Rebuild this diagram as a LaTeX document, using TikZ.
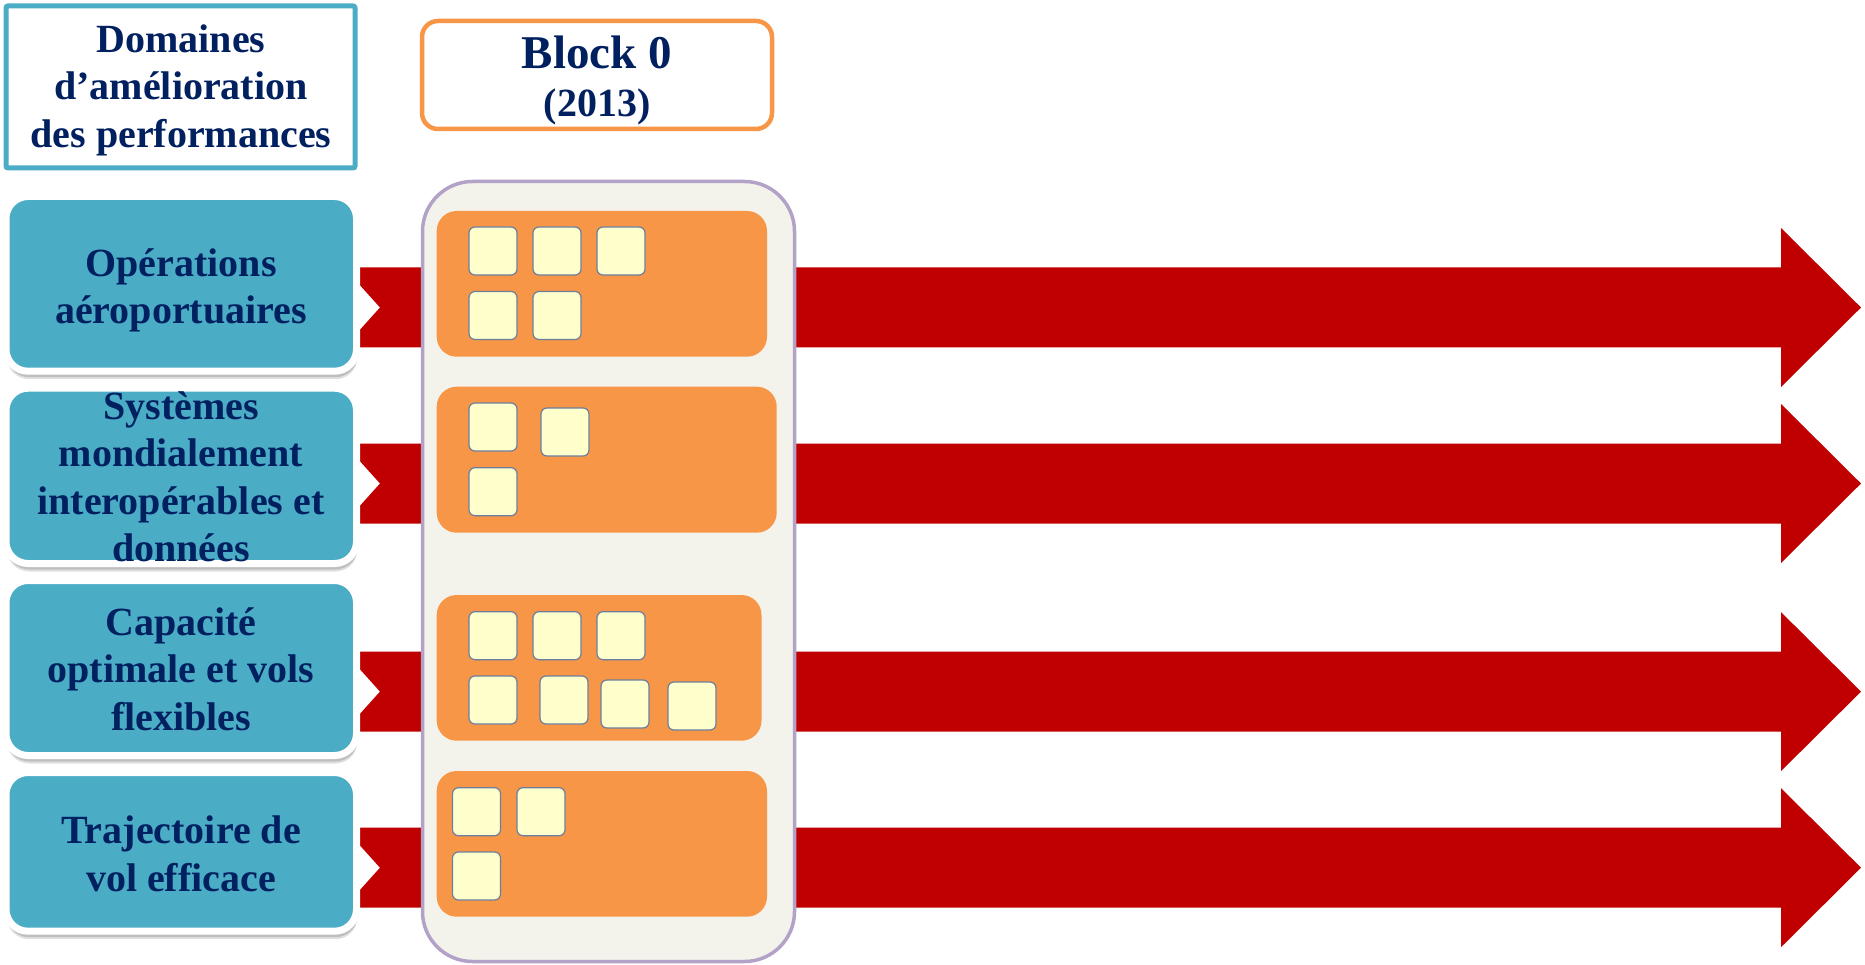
\documentclass[tikz,border=0pt]{standalone}
\usepackage{fontspec}
\setmainfont{Liberation Serif}
\usetikzlibrary{shadows}
\definecolor{cTeal}{HTML}{4BACC6}
\definecolor{cNavy}{HTML}{002060}
\definecolor{cRed}{HTML}{C00000}
\definecolor{cOrange}{HTML}{F79646}
\definecolor{cCream}{HTML}{F3F2EB}
\definecolor{cLav}{HTML}{B3A2C7}
\definecolor{cSq}{HTML}{FFFFCC}
\definecolor{cSqLine}{HTML}{6C7F9F}
\tikzset{
  lbl/.style={font=\fontsize{40}{47.5}\selectfont\bfseries, text=cNavy, align=center, inner sep=0pt},
  areabox/.style={fill=cTeal, draw=white, line width=7pt, rounded corners=22pt, minimum width=350.5pt, inner sep=0pt, outer sep=0pt,
    drop shadow={shadow xshift=1pt, shadow yshift=-8pt, fill=black, opacity=0.12},
    drop shadow={shadow xshift=1pt, shadow yshift=-6pt, fill=black, opacity=0.15}},
  orangebox/.style={fill=cOrange, draw=none, rounded corners=20pt, inner sep=0pt, outer sep=0pt},
  sqbox/.style={fill=cSq, draw=cSqLine, line width=1.2pt, rounded corners=6pt, minimum width=48pt, minimum height=48pt, inner sep=0pt, outer sep=0pt, anchor=north west},
  colbox/.style={fill=cCream, draw=cLav, line width=3.5pt, rounded corners=50pt, inner sep=0pt, outer sep=0pt},
  redarrow/.style={fill=cRed, draw=none}
}
\begin{document}
\begin{tikzpicture}[x=1pt,y=-1pt]
\useasboundingbox (0,0) rectangle (1865,965);
% red arrows
\foreach \c in {307.5,483.5,691.6,867.7}{
  \fill[redarrow] (344,\c-40) -- (1781,\c-40) -- (1781,\c-79.5) -- (1861,\c) -- (1781,\c+79.5) -- (1781,\c+40) -- (344,\c+40) -- (380,\c) -- cycle;
}
% column container
\node[colbox, minimum width=372pt, minimum height=780pt] (col) at (608.5,571.5) {};
% orange boxes
\node[orangebox, minimum width=330.3pt, minimum height=145.7pt] (o1) at (601.85,283.85) {};
\node[orangebox, minimum width=340pt, minimum height=146pt] (o2) at (606.7,459.7) {};
\node[orangebox, minimum width=324.8pt, minimum height=145.7pt] (o3) at (599.1,667.85) {};
\node[orangebox, minimum width=330.3pt, minimum height=145.7pt] (o4) at (601.85,843.85) {};
% squares row 1
\node[sqbox] (s11) at (469,227) {};
\node[sqbox] (s12) at (533,227) {};
\node[sqbox] (s13) at (597,227) {};
\node[sqbox] (s14) at (469,291.5) {};
\node[sqbox] (s15) at (533,291.5) {};
% row 2
\node[sqbox] (s21) at (469,403) {};
\node[sqbox] (s22) at (541,408) {};
\node[sqbox] (s23) at (469,467.7) {};
% row 3
\node[sqbox] (s31) at (469,611.7) {};
\node[sqbox] (s32) at (533,611.7) {};
\node[sqbox] (s33) at (597,611.7) {};
\node[sqbox] (s34) at (469,676) {};
\node[sqbox] (s35) at (540,676) {};
\node[sqbox] (s36) at (601,680) {};
\node[sqbox] (s37) at (668,682) {};
% row 4
\node[sqbox] (s41) at (452.5,787.7) {};
\node[sqbox] (s42) at (517,787.7) {};
\node[sqbox] (s43) at (452.5,852) {};
% domain boxes
\node[areabox, minimum height=174.7pt] (d1) at (181.25,283.85) {};
\node[areabox, minimum height=175.3pt] (d2) at (181.25,475.85) {};
\node[areabox, minimum height=175pt] (d3) at (181.25,668) {};
\node[areabox, minimum height=158.7pt] (d4) at (181.25,851.85) {};
\node[lbl] (t1) at (181,290.5) {\strut Opérations\\aéroportuaires\strut};
\node[lbl] (t2) at (181,480.8) {\strut Systèmes\\mondialement\\interopérables et\\données\strut};
\node[lbl] (t3) at (181,673) {\strut Capacité\\optimale et vols\\flexibles\strut};
\node[lbl] (t4) at (181,857.8) {\strut Trajectoire de\\vol efficace\strut};
% header boxes
\node[draw=cTeal, line width=5pt, rounded corners=2pt, fill=white, minimum width=349pt, minimum height=162pt, inner sep=0pt] (hdr) at (180.5,87) {};
\node[lbl] (hdrt) at (181,90.5) {\strut Domaines\\d’amélioration\\des performances\strut};
\node[draw=cOrange, line width=4.5pt, rounded corners=16pt, fill=white, minimum width=350pt, minimum height=108pt, inner sep=0pt] (blk) at (597,75) {};
\node[font=\fontsize{47}{50}\selectfont\bfseries, text=cNavy, anchor=base, inner sep=0pt] (blkt) at (597,69) {Block 0};
\node[font=\fontsize{40}{46}\selectfont\bfseries, text=cNavy, anchor=base, inner sep=0pt] (yr) at (597,116.5) {(2013)};
\end{tikzpicture}
\end{document}
